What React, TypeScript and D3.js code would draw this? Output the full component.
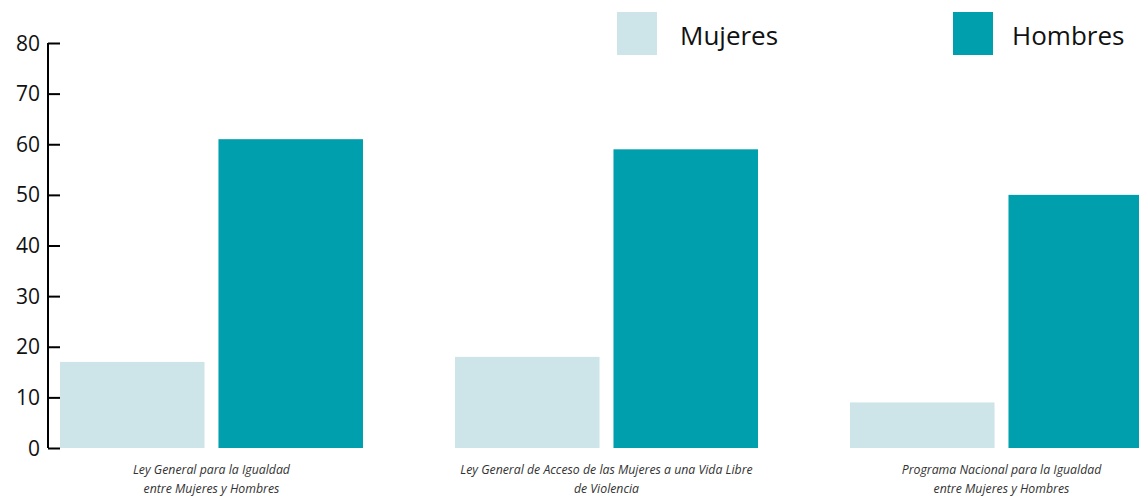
import React, { useEffect, useRef } from 'react';
import * as d3 from 'd3';

const categories = [
    ['Ley General para la Igualdad', 'entre Mujeres y Hombres'],
    ['Ley General de Acceso de las Mujeres a una Vida Libre', 'de Violencia'],
    ['Programa Nacional para la Igualdad', 'entre Mujeres y Hombres'],
];
const series = ['Mujeres', 'Hombres'];
const mujeres = [17, 18, 9];
const hombres = [61, 59, 50];
const yTicks = [0, 10, 20, 30, 40, 50, 60, 70, 80];
const colors = ['#cde4e8', '#009fad'];

const App = () => {
    const ref = useRef<SVGSVGElement>(null);

    useEffect(() => {
        const width = 1139;
        const height = 498;
        const svg = d3.select(ref.current).attr('width', width).attr('height', height);
        svg.selectAll('*').remove();
        const font = "'Open Sans', sans-serif";

        const y = d3.scaleLinear().domain([0, 80]).range([448, 43]);
        const x0 = d3
            .scaleBand()
            .domain(d3.range(categories.length).map(String))
            .range([60, 1153])
            .paddingInner(0.233)
            .paddingOuter(0);
        const x1 = d3
            .scaleBand()
            .domain(series)
            .range([0, x0.bandwidth()])
            .paddingInner(0.088);

        const values = [mujeres, hombres];
        const g = svg.append('g');
        series.forEach((s, si) => {
            g.append('g')
                .attr('fill', colors[si])
                .selectAll('rect')
                .data(values[si])
                .join('rect')
                .attr('x', (d, i) => (x0(String(i)) as number) + (x1(s) as number))
                .attr('y', d => y(d))
                .attr('width', x1.bandwidth())
                .attr('height', d => y(0) - y(d));
        });

        // y axis
        const axis = svg
            .append('g')
            .attr('transform', 'translate(48, 0)')
            .call(
                d3
                    .axisRight(y)
                    .tickValues(yTicks)
                    .tickSize(12)
                    .tickFormat(() => '')
            );
        axis.select('.domain').attr('d', `M0,${y(80)}V${y(0)}`).attr('stroke', '#000').attr('stroke-width', 2);
        axis.selectAll('.tick line').attr('stroke', '#000').attr('stroke-width', 2);

        svg.append('g')
            .selectAll('text')
            .data(yTicks)
            .join('text')
            .attr('x', 40)
            .attr('y', d => y(d))
            .attr('dy', '0.36em')
            .attr('text-anchor', 'end')
            .attr('font-family', font)
            .attr('font-size', 21)
            .attr('fill', '#111')
            .text(d => d);

        // category labels
        const lab = svg
            .append('g')
            .selectAll('text')
            .data(categories)
            .join('text')
            .attr('x', (d, i) => (x0(String(i)) as number) + x0.bandwidth() / 2)
            .attr('y', 474)
            .attr('text-anchor', 'middle')
            .attr('font-family', font)
            .attr('font-style', 'italic')
            .attr('font-size', 12.3)
            .attr('fill', '#333');
        lab.each(function (d) {
            d3.select(this)
                .selectAll('tspan')
                .data(d)
                .join('tspan')
                .attr('x', d3.select(this).attr('x'))
                .attr('dy', (t, j) => (j === 0 ? 0 : 19))
                .text(t => t);
        });

        // legend
        const legendX = [617, 953];
        const leg = svg
            .append('g')
            .selectAll('g')
            .data(series)
            .join('g')
            .attr('transform', (d, i) => `translate(${legendX[i]}, 12)`);
        leg.append('rect')
            .attr('width', 40)
            .attr('height', 43)
            .attr('fill', (d, i) => colors[i]);
        leg.append('text')
            .attr('x', (d, i) => (i === 0 ? 63 : 59))
            .attr('y', 33)
            .attr('font-family', font)
            .attr('font-size', 26)
            .attr('font-weight', 500)
            .attr('fill', '#111')
            .text(d => d);
    }, []);

    return (
        <div style={{ position: 'absolute', top: 0, left: 0, overflow: 'hidden' }}>
            <svg ref={ref} style={{ display: 'block' }}></svg>
        </div>
    );
};

export default App;
